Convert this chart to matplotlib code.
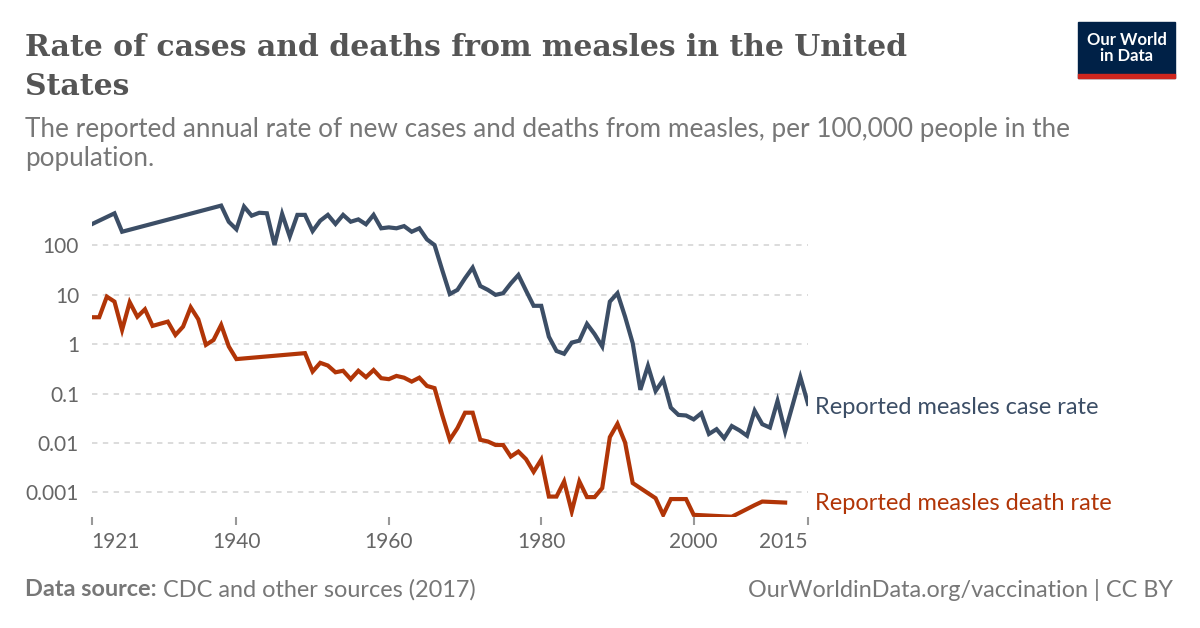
import numpy as np
import matplotlib.pyplot as plt
from matplotlib.patches import Rectangle

# ---- data (per 100,000 people) ----
case_years = [1921, 1924, 1925, 1938, 1939, 1940, 1941, 1942, 1943, 1944, 1945,
              1946, 1947, 1948, 1949, 1950, 1951, 1952, 1953, 1954, 1955, 1956,
              1957, 1958, 1959, 1960, 1961, 1962, 1963, 1964, 1965, 1966, 1967,
              1968, 1969, 1970, 1971, 1972, 1973, 1974, 1975, 1976, 1977, 1978,
              1979, 1980, 1981, 1982, 1983, 1984, 1985, 1986, 1987, 1988, 1989,
              1990, 1991, 1992, 1993, 1994, 1995, 1996, 1997, 1998, 1999, 2000,
              2001, 2002, 2003, 2004, 2005, 2006, 2007, 2008, 2009, 2010, 2011,
              2012, 2013, 2014, 2015]
case_rate = [269, 448, 190, 643, 302, 213, 614, 402, 460, 450, 102,
             436, 152, 417, 417, 196, 318, 417, 273, 417, 303, 338,
             269, 417, 223, 233, 223, 247, 190, 223, 133, 102, 32,
             10.4, 12.6, 21.7, 35.6, 15.1, 12.6, 10.0, 10.8, 17.0, 25.3, 12.2,
             6.0, 6.0, 1.42, 0.73, 0.64, 1.08, 1.18, 2.58, 1.6, 0.9, 7.3,
             10.8, 3.6, 1.05, 0.119, 0.364, 0.113, 0.19, 0.052, 0.037, 0.036, 0.030,
             0.040, 0.0152, 0.019, 0.0125, 0.022, 0.018, 0.014, 0.045, 0.024, 0.0205, 0.071,
             0.017, 0.06, 0.215, 0.062]

death_years = [1921, 1922, 1923, 1924, 1925, 1926, 1927, 1928, 1929, 1930, 1931,
               1932, 1933, 1934, 1935, 1936, 1937, 1938, 1939, 1940, 1949, 1950,
               1951, 1952, 1953, 1954, 1955, 1956, 1957, 1958, 1959, 1960, 1961,
               1962, 1963, 1964, 1965, 1966, 1967, 1968, 1969, 1970, 1971, 1972,
               1973, 1974, 1975, 1976, 1977, 1978, 1979, 1980, 1981, 1982, 1983,
               1984, 1985, 1986, 1987, 1988, 1989, 1990, 1991, 1992, 1995, 1996,
               1997, 1998, 1999, 2000, 2005, 2008, 2009, 2012]
death_rate = [3.52, 3.52, 9.2, 7.3, 1.95, 7.1, 3.6, 5.1, 2.35, 2.6, 2.87,
              1.54, 2.27, 5.6, 3.2, 0.97, 1.22, 2.46, 0.90, 0.50, 0.66, 0.28,
              0.42, 0.37, 0.27, 0.29, 0.196, 0.29, 0.215, 0.30, 0.205, 0.196, 0.228,
              0.21, 0.175, 0.21, 0.143, 0.129, 0.037, 0.0116, 0.020, 0.041, 0.041, 0.0116,
              0.0107, 0.0091, 0.0091, 0.0053, 0.0067, 0.0047, 0.0026, 0.0046, 0.00082, 0.00082, 0.00166,
              0.00041, 0.00166, 0.00080, 0.00080, 0.00122, 0.0131, 0.0244, 0.0102, 0.00154, 0.00076, 0.00035,
              0.00073, 0.00073, 0.00073, 0.00035, 0.00032, 0.00055, 0.00065, 0.00062]

y_ticks = [100, 10, 1, 0.1, 0.01, 0.001]
y_labels = ["100", "10", "1", "0.1", "0.01", "0.001"]
x_ticks = [1921, 1940, 1960, 1980, 2000, 2015]

case_color = "#3c4e66"
death_color = "#b13507"
text_grey = "#666666"

plt.rcParams["font.family"] = ["Lato", "DejaVu Sans"]

fig = plt.figure(figsize=(12, 6.28), dpi=100)
ax = fig.add_axes([91.6 / 1200, 111 / 628, (808 - 91.6) / 1200, 318.4 / 628])

ax.plot(case_years, case_rate, color=case_color, lw=3, solid_joinstyle="miter", zorder=3)
ax.plot(death_years, death_rate, color=death_color, lw=3, solid_joinstyle="miter", zorder=3)

ax.set_yscale("log")
ax.set_ylim(10 ** -3.5, 10 ** 2.95)
ax.set_xlim(1921, 2015)

ax.set_yticks(y_ticks)
ax.set_yticklabels(y_labels)
ax.yaxis.set_minor_locator(plt.NullLocator())
for v in y_ticks:
    ax.axhline(v, color="#d9d9d9", lw=1.3, ls=(0, (3, 3)), zorder=1)

ax.set_xticks(x_ticks)
ax.set_xticklabels([str(x) for x in x_ticks])
ax.tick_params(axis="y", length=0, pad=9, labelsize=15, labelcolor=text_grey)
ax.tick_params(axis="x", length=6, width=1.5, color="#999999", pad=5,
               labelsize=15, labelcolor=text_grey, direction="out")
xl = ax.get_xticklabels()
xl[0].set_horizontalalignment("left")
xl[-1].set_horizontalalignment("right")

for s in ax.spines.values():
    s.set_visible(False)
ax.set_facecolor("none")

# line labels
ax.text(2015.9, 0.053, "Reported measles case rate", color=case_color,
        fontsize=17, va="center", ha="left", clip_on=False)
ax.text(2015.9, 0.00058, "Reported measles death rate", color=death_color,
        fontsize=17, va="center", ha="left", clip_on=False)

# title / subtitle
fig.text(25 / 1200, 1 - 67 / 628, "Rate of cases and deaths from measles in the United\nStates",
         family=["DejaVu Serif"], fontweight="bold", fontsize=21.5, color="#555555",
         va="center", ha="left", linespacing=1.4)
fig.text(25 / 1200, 1 - 144 / 628,
         "The reported annual rate of new cases and deaths from measles, per 100,000 people in the\npopulation.",
         fontsize=18.8, color="#777777", va="center", ha="left", linespacing=1.17)

# footer
fig.text(25 / 1200, 1 - 590 / 628, "Data source:", fontweight="bold", fontsize=16.9,
         color="#777777", va="center", ha="left")
fig.text(163 / 1200, 1 - 590 / 628, "CDC and other sources (2017)", fontsize=16.9,
         color="#777777", va="center", ha="left")
fig.text(1173 / 1200, 1 - 590 / 628, "OurWorldinData.org/vaccination | CC BY", fontsize=16.8,
         color="#777777", va="center", ha="right")

# logo
fig.patches.append(Rectangle((1078 / 1200, 1 - 78 / 628), 97 / 1200, 56 / 628,
                             transform=fig.transFigure, color="#002147", zorder=5))
fig.patches.append(Rectangle((1078 / 1200, 1 - 78 / 628), 97 / 1200, 4 / 628,
                             transform=fig.transFigure, color="#ce261e", zorder=6))
fig.text(1126.5 / 1200, 1 - 48 / 628, "Our World\nin Data", color="white", fontsize=12,
         fontweight="bold", ha="center", va="center", linespacing=1.0, zorder=7)

fig.savefig("out.png", dpi=100, facecolor="white")
